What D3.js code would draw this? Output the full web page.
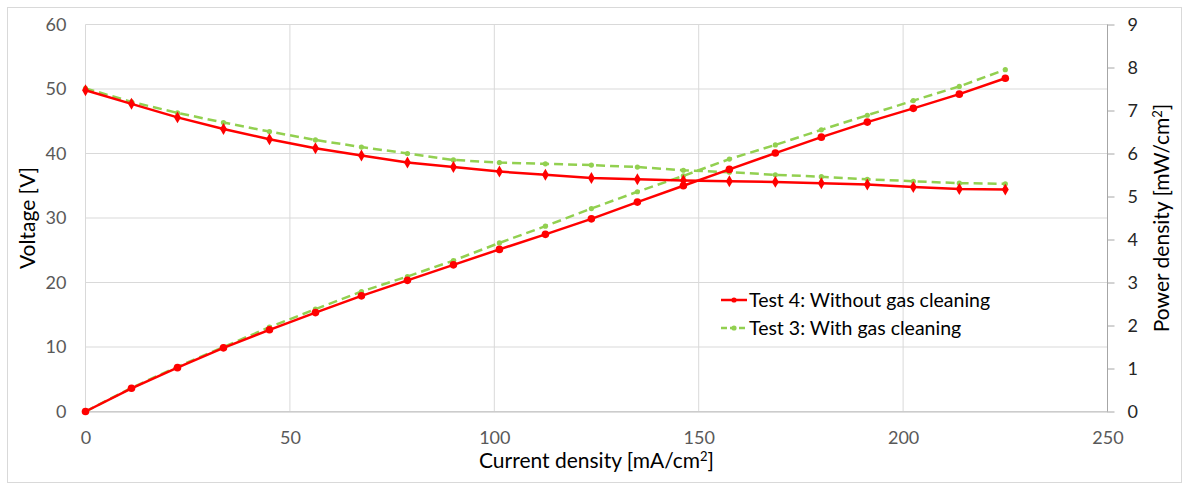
<!DOCTYPE html>
<html>
<head>
<meta charset="utf-8">
<script src="https://cdn.jsdelivr.net/npm/d3@7"></script>
<style>
	body { margin: 0; background: #fff; }
	text { font-family: Lato, "Open Sans", "Liberation Sans", sans-serif; }
</style>
</head>
<body>
<div id="chart"></div>
<script>
// Current density steps [mA/cm2]
const current = [0, 11.25, 22.5, 33.75, 45, 56.25, 67.5, 78.75, 90, 101.25, 112.5,
	123.75, 135, 146.25, 157.5, 168.75, 180, 191.25, 202.5, 213.75, 225];

// Test 4: Without gas cleaning
const voltageT4 = [49.8, 47.7, 45.6, 43.8, 42.2, 40.8, 39.7, 38.6, 37.9, 37.2, 36.7,
	36.2, 36.0, 35.8, 35.7, 35.6, 35.4, 35.2, 34.8, 34.5, 34.4];
const powerT4 = [0, 0.54, 1.02, 1.48, 1.9, 2.3, 2.69, 3.05, 3.41, 3.77, 4.12,
	4.48, 4.87, 5.25, 5.63, 6.01, 6.38, 6.73, 7.05, 7.38, 7.75];

// Test 3: With gas cleaning
const voltageT3 = [50.1, 48.0, 46.3, 44.8, 43.4, 42.1, 41.0, 40.0, 39.0, 38.6, 38.4,
	38.2, 37.9, 37.4, 37.1, 36.7, 36.4, 36.0, 35.7, 35.4, 35.3];
const powerT3 = [0, 0.55, 1.04, 1.5, 1.96, 2.38, 2.79, 3.14, 3.51, 3.92, 4.31,
	4.72, 5.11, 5.48, 5.87, 6.2, 6.55, 6.89, 7.23, 7.56, 7.95];

const xTicks = [0, 50, 100, 150, 200, 250];
const yLeftTicks = [0, 10, 20, 30, 40, 50, 60];
const yRightTicks = [0, 1, 2, 3, 4, 5, 6, 7, 8, 9];
const seriesNames = ["Test 4: Without gas cleaning", "Test 3: With gas cleaning"];

const width = 1182, height = 484;
const margin = { top: 24.5, left: 85.5, right: 74.5, bottom: 72.5 };
const red = "#ff0000", green = "#92d050";

const svg = d3.select("#chart").append("svg")
	.attr("width", width)
	.attr("height", height);

// outer chart border
svg.append("rect")
	.attr("x", 7.5).attr("y", 7.5)
	.attr("width", width - 8).attr("height", height - 9)
	.attr("fill", "none")
	.attr("stroke", "#d9d9d9");

const xScale = d3.scaleLinear().domain([0, 250])
	.range([margin.left, width - margin.right]);
const yLeft = d3.scaleLinear().domain([0, 60])
	.range([height - margin.bottom, margin.top]);
const yRight = d3.scaleLinear().domain([0, 9])
	.range([height - margin.bottom, margin.top]);

// gridlines
svg.append("g").selectAll("line")
	.data(yLeftTicks)
	.join("line")
	.attr("x1", margin.left).attr("x2", width - margin.right)
	.attr("y1", d => yLeft(d)).attr("y2", d => yLeft(d))
	.attr("stroke", "#d9d9d9");
svg.append("g").selectAll("line")
	.data(xTicks)
	.join("line")
	.attr("x1", d => xScale(d)).attr("x2", d => xScale(d))
	.attr("y1", margin.top).attr("y2", height - margin.bottom)
	.attr("stroke", "#d9d9d9");

// bottom axis
const xAxis = svg.append("g")
	.attr("transform", `translate(0, ${height - margin.bottom})`)
	.call(d3.axisBottom(xScale).tickValues(xTicks).tickSize(0).tickPadding(20));
xAxis.select(".domain").attr("stroke", "#bfbfbf");
xAxis.selectAll("text").attr("fill", "#595959").style("font-size", "18px");

// left axis
const yAxisL = svg.append("g")
	.attr("transform", `translate(${margin.left}, 0)`)
	.call(d3.axisLeft(yLeft).tickValues(yLeftTicks).tickSize(0).tickPadding(19));
yAxisL.select(".domain").remove();
yAxisL.selectAll("text").attr("fill", "#595959").style("font-size", "18px");

// right axis
const yAxisR = svg.append("g")
	.attr("transform", `translate(${width - margin.right}, 0)`)
	.call(d3.axisRight(yRight).tickValues(yRightTicks).tickSize(7).tickPadding(13));
yAxisR.select(".domain").attr("stroke", "#a6a6a6").attr("d", `M0,${margin.top}V${height - margin.bottom}`);
yAxisR.selectAll(".tick line").attr("stroke", "#a6a6a6");
yAxisR.selectAll("text").attr("fill", "#262626").style("font-size", "18px");

// axis titles
svg.append("text")
	.text("Voltage [V]")
	.style("text-anchor", "middle")
	.style("font-size", "21px")
	.attr("transform", `translate(35, ${(margin.top + height - margin.bottom) / 2}) rotate(-90)`);

const rTitle = svg.append("text")
	.style("text-anchor", "middle")
	.style("font-size", "21px")
	.attr("transform", `translate(1169, ${(margin.top + height - margin.bottom) / 2}) rotate(-90)`);
rTitle.append("tspan").text("Power density [mW/cm");
rTitle.append("tspan").text("2").attr("dy", -7).style("font-size", "13px");
rTitle.append("tspan").text("]").attr("dy", 7);

const xTitle = svg.append("text")
	.style("text-anchor", "middle")
	.style("font-size", "21px")
	.attr("x", (margin.left + width - margin.right) / 2)
	.attr("y", 468);
xTitle.append("tspan").text("Current density [mA/cm");
xTitle.append("tspan").text("2").attr("dy", -7).style("font-size", "13px");
xTitle.append("tspan").text("]").attr("dy", 7);

// data series
const toPoints = (vals) => current.map((c, i) => ({ x: c, y: vals[i] }));
const series = [
	{ vals: voltageT3, scale: yLeft, color: green, dash: "9,5", marker: "circle", size: 2.6 },
	{ vals: powerT3, scale: yRight, color: green, dash: "9,5", marker: "circle", size: 2.6 },
	{ vals: voltageT4, scale: yLeft, color: red, dash: null, marker: "diamond", size: 3.6 },
	{ vals: powerT4, scale: yRight, color: red, dash: null, marker: "circle", size: 3.8 },
];

for (let s of series) {
	const pts = toPoints(s.vals);
	const line = d3.line()
		.x(d => xScale(d.x))
		.y(d => s.scale(d.y));
	svg.append("path")
		.attr("d", line(pts))
		.attr("fill", "none")
		.attr("stroke", s.color)
		.attr("stroke-width", 2.5)
		.attr("stroke-dasharray", s.dash);

	if (s.marker === "circle") {
		svg.append("g").selectAll("circle")
			.data(pts)
			.join("circle")
			.attr("cx", d => xScale(d.x))
			.attr("cy", d => s.scale(d.y))
			.attr("r", s.size)
			.attr("fill", s.color);
	} else {
		const sym = d3.symbol().type(d3.symbolDiamond).size(s.size * s.size * 3.2);
		svg.append("g").selectAll("path")
			.data(pts)
			.join("path")
			.attr("d", sym)
			.attr("transform", d => `translate(${xScale(d.x)}, ${s.scale(d.y)})`)
			.attr("fill", s.color);
	}
}

// legend
const legend = svg.append("g").attr("transform", "translate(721, 0)");
const legendItems = [
	{ name: seriesNames[0], color: red, dash: null, y: 300 },
	{ name: seriesNames[1], color: green, dash: "6,3", y: 328 },
];
for (let item of legendItems) {
	legend.append("line")
		.attr("x1", 0).attr("x2", 26)
		.attr("y1", item.y).attr("y2", item.y)
		.attr("stroke", item.color)
		.attr("stroke-width", 2.5)
		.attr("stroke-dasharray", item.dash);
	legend.append("circle")
		.attr("cx", 13).attr("cy", item.y)
		.attr("r", 2.6)
		.attr("fill", item.color);
	legend.append("text")
		.text(item.name)
		.attr("x", 28)
		.attr("y", item.y + 7)
		.style("font-size", "19.5px")
		.attr("fill", "#000");
}
</script>
</body>
</html>
